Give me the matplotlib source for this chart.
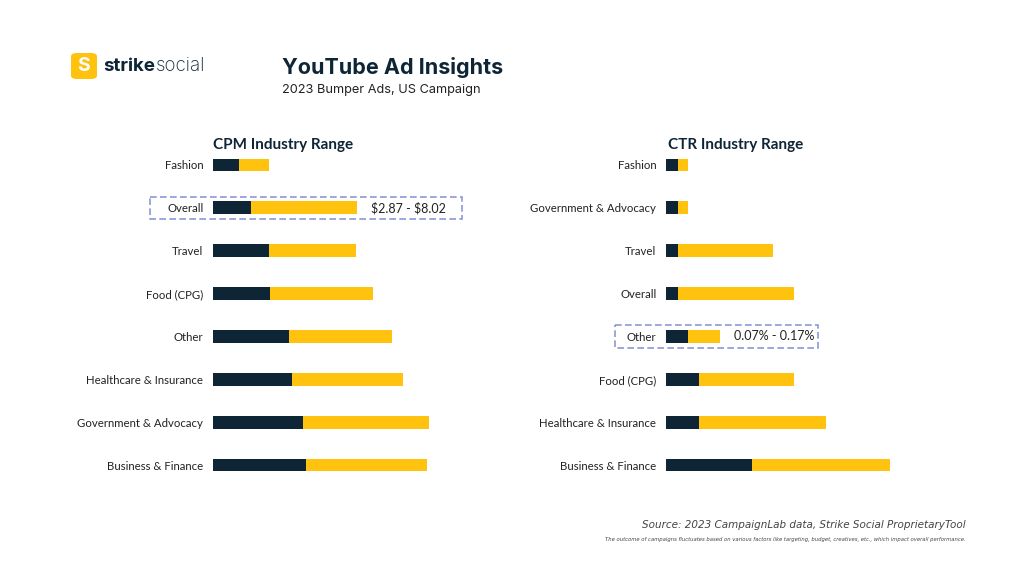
import matplotlib.pyplot as plt
from matplotlib.patches import Rectangle, FancyBboxPatch

# CPM industry range (US$), low / high per industry
cpm_labels = ['Fashion', 'Overall', 'Travel', 'Food (CPG)', 'Other',
              'Healthcare & Insurance', 'Government & Advocacy', 'Business & Finance']
cpm_low = [2.24, 2.87, 3.73, 3.78, 4.68, 4.86, 5.35, 5.54]
cpm_high = [3.71, 8.02, 7.97, 8.78, 9.72, 10.24, 11.47, 11.40]

# CTR industry range (%), low / high per industry
ctr_labels = ['Fashion', 'Government & Advocacy', 'Travel', 'Overall', 'Other',
              'Food (CPG)', 'Healthcare & Insurance', 'Business & Finance']
ctr_low = [0.037, 0.037, 0.037, 0.037, 0.07, 0.105, 0.105, 0.272]
ctr_high = [0.07, 0.07, 0.338, 0.405, 0.17, 0.405, 0.505, 0.706]

NAVY = '#0d2535'
YELLOW = '#ffc20e'
BOX = '#8c98d4'
W, H = 1024, 576


def px(x0, y0, x1, y1):
    """pixel box (top-left origin) -> figure axes rect"""
    return [x0 / W, 1 - y1 / H, (x1 - x0) / W, (y1 - y0) / H]


def range_panel(ax, labels, low, high, xlim, hl_idx, hl_text, hl_box):
    n = len(labels)
    ys = list(range(n))
    ax.barh(ys, low, height=0.3, color=NAVY, left=0)
    ax.barh(ys, [h - l for l, h in zip(low, high)], left=low, height=0.3, color=YELLOW)
    ax.set_xlim(*xlim)
    ax.set_ylim(n - 0.5, -0.5)
    ax.set_yticks(ys, labels, fontsize=8.2, color='#222222', family='Lato')
    ax.tick_params(axis='y', length=0, pad=7)
    ax.set_xticks([])
    for s in ax.spines.values():
        s.set_visible(False)
    ax.patch.set_alpha(0)
    ax.annotate(hl_text, xy=(high[hl_idx], hl_idx), xytext=(10, 0),
                textcoords='offset points', va='center', ha='left',
                fontsize=9, color='#222222', family='Lato')
    # dashed highlight box around the row
    x0, x1 = hl_box
    ax.add_patch(Rectangle((x0, hl_idx - 0.26), x1 - x0, 0.52, fill=False,
                           edgecolor=BOX, linestyle=(0, (4, 2)), linewidth=1.2,
                           clip_on=False))


fig = plt.figure(figsize=(10.24, 5.76), dpi=100)
fig.patch.set_facecolor('white')

ax1 = fig.add_axes(px(213, 143.5, 460, 486.5))
range_panel(ax1, cpm_labels, cpm_low, cpm_high, (1.0, 13.0),
            1, r'\$2.87 - \$8.02', (-2.07, 13.09))

ax2 = fig.add_axes(px(666, 143.5, 919.6, 486.5))
range_panel(ax2, ctr_labels, ctr_low, ctr_high, (0.0, 0.8),
            4, '0.07% - 0.17%', (-0.161, 0.479))

# panel titles
fig.text(283 / W, 1 - 145 / H, 'CPM Industry Range', fontsize=11,
         fontweight='bold', color=NAVY, family='Lato', ha='center', va='center')
fig.text(736 / W, 1 - 145 / H, 'CTR Industry Range', fontsize=11,
         fontweight='bold', color=NAVY, family='Lato', ha='center', va='center')

# logo
logo = FancyBboxPatch((71 / W, 1 - 79 / H), 26 / W, 26 / H,
                      boxstyle='round,pad=0,rounding_size=0.006',
                      transform=fig.transFigure, facecolor=YELLOW,
                      edgecolor='none')
fig.patches.append(logo)
fig.text(84 / W, 1 - 66 / H, 'S', ha='center', va='center', fontsize=14,
         fontweight='bold', color='white', family='Inter')
t1 = fig.text(103 / W, 1 - 71 / H, 'strike', fontsize=13.5, fontweight='bold',
              color=NAVY, family='Inter', va='baseline')
ax1.annotate('social', xy=(1, 0), xycoords=t1, xytext=(0.5, 0),
             textcoords='offset points', va='bottom', ha='left',
             fontsize=13.5, color=NAVY, family='Inter', fontweight='light',
             annotation_clip=False)

# header
fig.text(282 / W, 1 - 67 / H, 'YouTube Ad Insights', fontsize=15.5,
         fontweight='bold', color=NAVY, family='Inter', va='center')
fig.text(282 / W, 1 - 90 / H, '2023 Bumper Ads, US Campaign', fontsize=9.2,
         color='#222222', family='Inter', va='center')

# footer
fig.text(966 / W, 1 - 525 / H,
         'Source: 2023 CampaignLab data, Strike Social ProprietaryTool',
         fontsize=7.5, style='italic', color='#444444', ha='right', va='center')
fig.text(966 / W, 1 - 539 / H,
         'The outcome of campaigns fluctuates based on various factors like targeting, '
         'budget, creatives, etc., which impact overall performance.',
         fontsize=3.8, style='italic', color='#444444', ha='right', va='center')

fig.savefig('out.png', dpi=100, facecolor='white')
